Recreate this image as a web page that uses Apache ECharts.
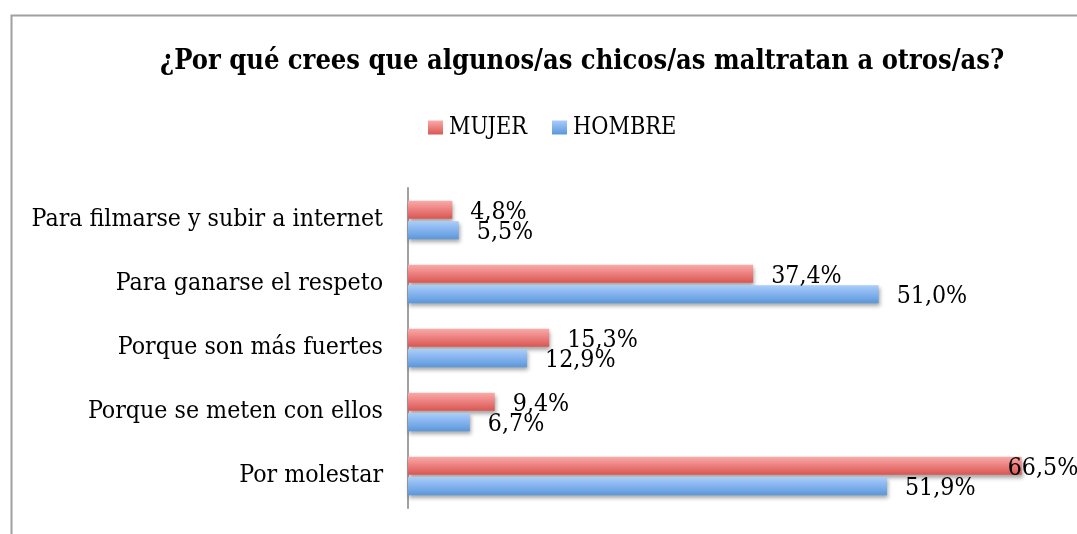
<!DOCTYPE html>
<html>
<head>
<meta charset="utf-8">
<script src="https://cdn.jsdelivr.net/npm/echarts@6/dist/echarts.min.js"></script>
<style>html,body{margin:0;padding:0;background:#fff;}#c{width:1077px;height:534px;}</style>
</head>
<body>
<div id="c"></div>
<script>
const titleText = '¿Por qué crees que algunos/as chicos/as maltratan a otros/as?';
const categories = ['Para filmarse y subir a internet', 'Para ganarse el respeto', 'Porque son más fuertes', 'Porque se meten con ellos', 'Por molestar'];
const mujer = [4.8, 37.4, 15.3, 9.4, 66.5];
const hombre = [5.5, 51.0, 12.9, 6.7, 51.9];

const FONT = '"DejaVu Serif Condensed", "DejaVu Serif", serif';
const chart = echarts.init(document.getElementById('c'), null, {renderer: 'canvas'});
const fmt = p => p.value.toFixed(1).replace('.', ',') + '%';
function grad(top, bottom) {
  return new echarts.graphic.LinearGradient(0, 0, 0, 1, [{offset: 0, color: top}, {offset: 1, color: bottom}]);
}
const labelBase = {show: true, position: 'right', distance: 18, offset: [0, 2], color: '#000', fontFamily: FONT, fontSize: 24.7, formatter: fmt};
const shadow = {shadowColor: 'rgba(0,0,0,0.35)', shadowBlur: 4, shadowOffsetY: 3, shadowOffsetX: 1};

const mujerData = mujer.map(v => v > 60 ? {value: v, label: {offset: [-32, 3]}} : v);

chart.setOption({
  animation: false,
  backgroundColor: '#fff',
  graphic: [{
    type: 'rect', shape: {x: 11.5, y: 15.5, width: 1200, height: 700},
    style: {fill: 'none', stroke: '#A0A0A0', lineWidth: 2}, z: -10
  }],
  title: {
    text: titleText, left: 155, top: 43,
    textStyle: {fontFamily: FONT, fontWeight: 'bold', fontSize: 27, color: '#000'}
  },
  legend: {
    left: 423, top: 111, itemWidth: 15, itemHeight: 14, itemGap: 25,
    icon: 'rect',
    textStyle: {fontFamily: FONT, fontSize: 23.3, color: '#000', padding: [6, 0, 0, 1]},
    data: ['MUJER', 'HOMBRE']
  },
  grid: {left: 408, top: 188, width: 646, height: 320, containLabel: false},
  xAxis: {type: 'value', min: 0, max: 70, show: false, splitLine: {show: false}},
  yAxis: {
    type: 'category', data: categories, inverse: true,
    axisLine: {show: true, lineStyle: {color: '#A0A0A0', width: 2}},
    axisTick: {show: false},
    axisLabel: {fontFamily: FONT, fontSize: 24.7, color: '#000', margin: 25}
  },
  series: [
    {name: 'MUJER', type: 'bar', data: mujerData, barWidth: 18, barGap: '15%',
     itemStyle: Object.assign({color: grad('#FBAAA9', '#DA5652')}, shadow),
     label: Object.assign({}, labelBase, {offset: [0, 3]})},
    {name: 'HOMBRE', type: 'bar', data: hombre, barWidth: 18, barGap: '15%',
     itemStyle: Object.assign({color: grad('#AACCFB', '#5A97DC')}, shadow), label: labelBase}
  ]
});
</script>
</body>
</html>
